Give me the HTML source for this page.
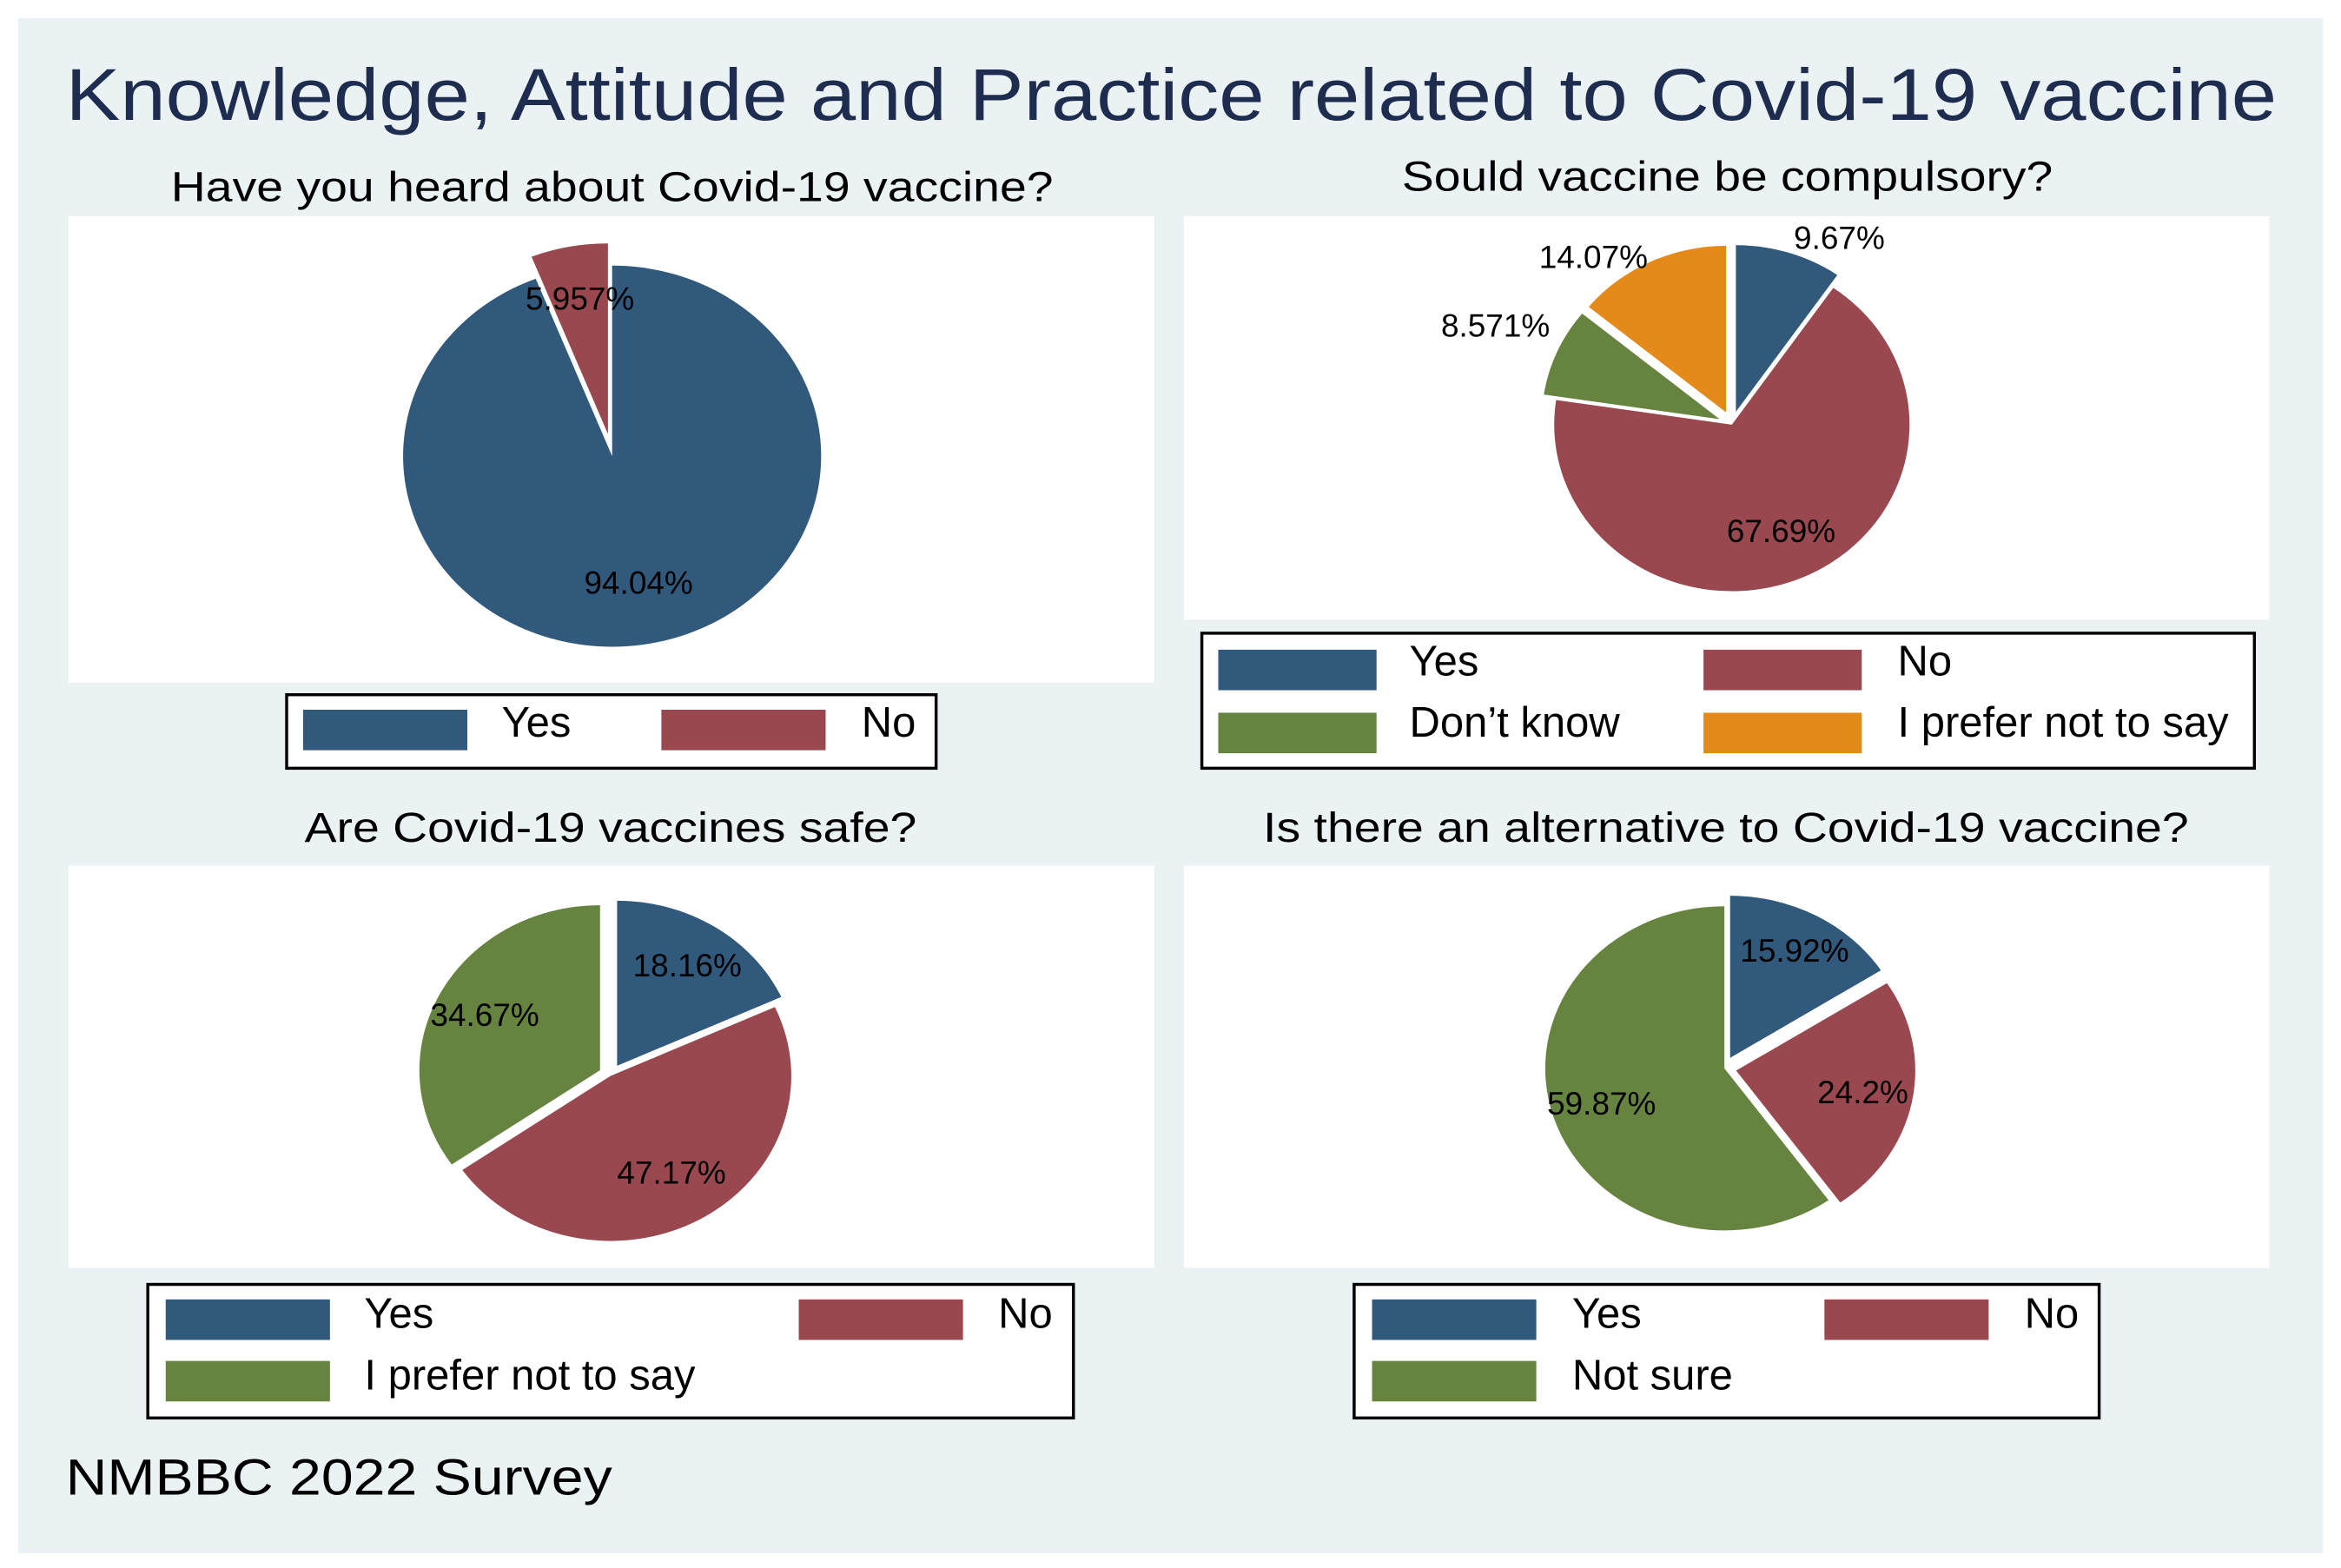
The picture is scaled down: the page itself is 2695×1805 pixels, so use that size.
<!DOCTYPE html>
<html><head><meta charset="utf-8"><style>
html,body{margin:0;padding:0;background:#fff;}
svg{display:block;}
text{font-family:"Liberation Sans",Arial,sans-serif;}
</style></head><body>
<svg id="chart" width="2695" height="1805" viewBox="0 0 1568 1045" preserveAspectRatio="none" xmlns="http://www.w3.org/2000/svg">
<rect x="0" y="0" width="1568" height="1045" fill="#ffffff"/>
<rect x="12" y="12" width="1544" height="1023" fill="#EAF2F3"/>
<text x="44" y="80" font-size="49" fill="#1E2C4F" textLength="1481" lengthAdjust="spacingAndGlyphs">Knowledge, Attitude and Practice related to Covid-19 vaccine</text>

<text x="410" y="134" font-size="28" text-anchor="middle" textLength="591" lengthAdjust="spacingAndGlyphs">Have you heard about Covid-19 vaccine?</text>
<rect x="46" y="144" width="727" height="311" fill="#fff"/>
<g id="pie1"></g>
<g>
<rect x="192" y="463" width="435" height="49" fill="#fff" stroke="#000" stroke-width="2"/>
<rect x="203" y="473" width="110" height="27" fill="#31597C"/>
<text x="336" y="491" font-size="28.5">Yes</text>
<rect x="443" y="473" width="110" height="27" fill="#9A4850"/>
<text x="577" y="491" font-size="28.5">No</text>
</g>

<text x="1157" y="127" font-size="28" text-anchor="middle" textLength="436" lengthAdjust="spacingAndGlyphs">Sould vaccine be compulsory?</text>
<rect x="793" y="144" width="727" height="269" fill="#fff"/>
<g id="pie2"></g>
<g>
<rect x="805" y="422" width="705" height="90" fill="#fff" stroke="#000" stroke-width="2"/>
<rect x="816" y="433" width="106" height="27" fill="#31597C"/>
<text x="944" y="450" font-size="28.5">Yes</text>
<rect x="1141" y="433" width="106" height="27" fill="#9A4850"/>
<text x="1271" y="450" font-size="28.5">No</text>
<rect x="816" y="475" width="106" height="27" fill="#66843F"/>
<text x="944" y="491" font-size="28.5">Don’t know</text>
<rect x="1141" y="475" width="106" height="27" fill="#E48A1A"/>
<text x="1271" y="491" font-size="28.5">I prefer not to say</text>
</g>

<text x="409" y="561" font-size="28" text-anchor="middle" textLength="410" lengthAdjust="spacingAndGlyphs">Are Covid-19 vaccines safe?</text>
<rect x="46" y="577" width="727" height="268" fill="#fff"/>
<g id="pie3"></g>
<g>
<rect x="99" y="856" width="620" height="89" fill="#fff" stroke="#000" stroke-width="2"/>
<rect x="111" y="866" width="110" height="27" fill="#31597C"/>
<text x="244" y="885" font-size="28.5">Yes</text>
<rect x="535" y="866" width="110" height="27" fill="#9A4850"/>
<text x="705" y="885" font-size="28.5" text-anchor="end">No</text>
<rect x="111" y="907" width="110" height="27" fill="#66843F"/>
<text x="244" y="926" font-size="28.5">I prefer not to say</text>
</g>

<text x="1156" y="561" font-size="28" text-anchor="middle" textLength="620" lengthAdjust="spacingAndGlyphs">Is there an alternative to Covid-19 vaccine?</text>
<rect x="793" y="577" width="727" height="268" fill="#fff"/>
<g id="pie4"></g>
<g>
<rect x="907" y="856" width="499" height="89" fill="#fff" stroke="#000" stroke-width="2"/>
<rect x="919" y="866" width="110" height="27" fill="#31597C"/>
<text x="1053" y="885" font-size="28.5">Yes</text>
<rect x="1222" y="866" width="110" height="27" fill="#9A4850"/>
<text x="1356" y="885" font-size="28.5">No</text>
<rect x="919" y="907" width="110" height="27" fill="#66843F"/>
<text x="1053" y="926" font-size="28.5">Not sure</text>
</g>

<text x="44" y="996" font-size="34" textLength="366" lengthAdjust="spacingAndGlyphs">NMBBC 2022 Survey</text>
</svg>
<script>
// Pie 1: Have you heard about Covid-19 vaccine?
const heardCategories = ["Yes", "No"];
const heardValues = [94.04, 5.957];
const heardLabels = ["94.04%", "5.957%"];
const heardExploded = [false, true];
// Pie 2: Should vaccine be compulsory?
const compCategories = ["Yes", "No", "Don't know", "I prefer not to say"];
const compValues = [9.67, 67.69, 8.571, 14.07];
const compLabels = ["9.67%", "67.69%", "8.571%", "14.07%"];
const compExploded = [true, false, true, true];
// Pie 3: Are Covid-19 vaccines safe?
const safeCategories = ["Yes", "No", "I prefer not to say"];
const safeValues = [18.16, 47.17, 34.67];
const safeLabels = ["18.16%", "47.17%", "34.67%"];
const safeExploded = [true, false, true];
// Pie 4: Is there an alternative?
const altCategories = ["Yes", "No", "Not sure"];
const altValues = [15.92, 24.2, 59.87];
const altLabels = ["15.92%", "24.2%", "59.87%"];
const altExploded = [true, true, false];

const NS = "http://www.w3.org/2000/svg";
function drawPie(gid, cats, vals, labels, expl, colors, geo) {
  const g = document.getElementById(gid);
  const total = vals.reduce((a, b) => a + b, 0);
  let acc = 0;
  vals.forEach((v, i) => {
    const a0 = acc / total * 2 * Math.PI;
    acc += v;
    const a1 = acc / total * 2 * Math.PI;
    const am = (a0 + a1) / 2;
    const d = expl[i] ? geo.ex : 0;
    const cx = geo.cx + d * Math.sin(am), cy = geo.cy - d * Math.cos(am);
    const p = (a) => [cx + geo.rx * Math.sin(a), cy - geo.ry * Math.cos(a)];
    const s = p(a0), e = p(a1);
    const large = (a1 - a0) > Math.PI ? 1 : 0;
    const path = document.createElementNS(NS, "path");
    path.setAttribute("d", `M${cx},${cy} L${s[0]},${s[1]} A${geo.rx},${geo.ry} 0 ${large} 1 ${e[0]},${e[1]} Z`);
    path.setAttribute("fill", colors[i]);
    
    
    g.appendChild(path);
    const t = document.createElementNS(NS, "text");
    const lf = Array.isArray(geo.lf) ? geo.lf[i] : geo.lf;
    const lx = cx + lf * geo.rx * Math.sin(am);
    const ly = cy - lf * geo.ry * Math.cos(am) + 7;
    const anchor = geo.anchors ? geo.anchors[i] : "middle";
    t.setAttribute("x", lx);
    t.setAttribute("y", ly);
    t.setAttribute("font-size", "21.5");
    t.setAttribute("text-anchor", anchor);
    t.textContent = labels[i];
    
    
    g.appendChild(t);
  });
}
const BLUE = "#31597C", RED = "#9A4850", GREEN = "#66843F", ORANGE = "#E48A1A";
drawPie("pie1", heardCategories, heardValues, heardLabels, heardExploded, [BLUE, RED],
  {cx: 410, cy: 304, rx: 140, ry: 127, ex: 15, lf: [0.68, 0.72]});
drawPie("pie2", compCategories, compValues, compLabels, compExploded, [BLUE, RED, GREEN, ORANGE],
  {cx: 1160, cy: 283, rx: 119, ry: 111, ex: 9, lf: [1.09, 0.7, 1.38, 1.03], anchors: ["start", "middle", "middle", "end"]});
drawPie("pie3", safeCategories, safeValues, safeLabels, safeExploded, [BLUE, RED, GREEN],
  {cx: 409, cy: 717, rx: 121, ry: 110, ex: 8, lf: [0.72, 0.68, 0.72]});
drawPie("pie4", altCategories, altValues, altLabels, altExploded, [BLUE, RED, GREEN],
  {cx: 1155, cy: 712, rx: 120, ry: 108, ex: 8, lf: [0.75, 0.72, 0.72]});
</script>
</body></html>
